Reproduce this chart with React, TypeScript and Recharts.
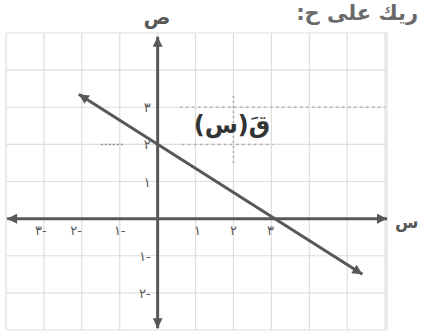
import { ComposedChart, Line, Scatter, XAxis, YAxis, CartesianGrid } from 'recharts';

// grid units
const xTicks = [-4, -3, -2, -1, 0, 1, 2, 3, 4, 5, 6];
const yTicks = [-3, -2, -1, 0, 1, 2, 3, 4, 5];

// axes drawn as series, with arrow heads at both ends
const xAxisLine = [
  { x: -3.97, y: 0 },
  { x: 6.05, y: 0 },
];
const yAxisLine = [
  { x: 0, y: 4.9 },
  { x: 0, y: -2.95 },
];

// the function line q(x)
const fLine = [
  { x: -2.08, y: 3.35 },
  { x: 5.4, y: -1.5 },
];

// faint dotted guides
const guideTop = [
  { x: 0.6, y: 3 },
  { x: 6, y: 3 },
];
const guideMid = [
  { x: 0.65, y: 2 },
  { x: 3.05, y: 2 },
];
const guideLeft = [
  { x: -1.5, y: 2 },
  { x: -0.9, y: 2 },
];
const guideVert = [
  { x: 2, y: 3.3 },
  { x: 2, y: 1.5 },
];

const xLabels = [
  { x: -3.08, y: 0, t: '٣-' },
  { x: -2.15, y: 0, t: '٢-' },
  { x: -1.0, y: 0, t: '١-' },
  { x: 1.05, y: 0, t: '١' },
  { x: 2.0, y: 0, t: '٢' },
  { x: 2.98, y: 0, t: '٣' },
];
const yLabels = [
  { x: 0, y: 3, t: '٣' },
  { x: 0, y: 2, t: '٢' },
  { x: 0, y: 1, t: '١' },
  { x: 0, y: -1, t: '١-' },
  { x: 0, y: -2, t: '٢-' },
];

const INK = '#585858';
const FONT = '"DejaVu Sans", sans-serif';

const XLabel = (p: any) => (
  <text x={p.cx} y={p.cy + 16} textAnchor="middle" fontSize={13} fill={INK} fontFamily={FONT}>
    {p.payload.t}
  </text>
);

const YLabel = (p: any) => (
  <text x={p.cx - 7} y={p.cy + 5} textAnchor="end" fontSize={13} fill={INK} fontFamily={FONT}>
    {p.payload.t}
  </text>
);

export default function App() {
  return (
    <div style={{ position: 'absolute', left: 0, top: 0, width: 422, height: 333, background: '#fff', overflow: 'hidden' }}>
      <svg width={0} height={0} style={{ position: 'absolute' }}>
        <defs>
          <marker
            id="arrow"
            viewBox="0 0 10 10"
            refX={10}
            refY={5}
            markerWidth={12}
            markerHeight={10}
            markerUnits="userSpaceOnUse"
            orient="auto-start-reverse"
          >
            <path d="M0,0 L10,5 L0,10 z" fill={INK} />
          </marker>
        </defs>
      </svg>
      <ComposedChart width={422} height={333} margin={{ top: 33, right: 35, bottom: 3, left: 6 }}>
        <XAxis hide type="number" dataKey="x" domain={[-4, 6.05]} ticks={xTicks} />
        <YAxis hide type="number" dataKey="y" domain={[-3, 5]} ticks={yTicks} />
        <CartesianGrid stroke="#dedede" strokeWidth={1.2} />
        <Line data={guideTop} dataKey="y" stroke="#a8a8a8" strokeWidth={1.5} strokeDasharray="2 4" dot={false} isAnimationActive={false} />
        <Line data={guideMid} dataKey="y" stroke="#a8a8a8" strokeWidth={1.5} strokeDasharray="2 4" dot={false} isAnimationActive={false} />
        <Line data={guideLeft} dataKey="y" stroke="#909090" strokeWidth={1.5} strokeDasharray="2 2" dot={false} isAnimationActive={false} />
        <Line data={guideVert} dataKey="y" stroke="#a8a8a8" strokeWidth={1.5} strokeDasharray="2 3" dot={false} isAnimationActive={false} />
        <Line
          data={xAxisLine}
          dataKey="y"
          stroke={INK}
          strokeWidth={3}
          dot={false}
          markerStart="url(#arrow)"
          markerEnd="url(#arrow)"
          isAnimationActive={false}
        />
        <Line
          data={yAxisLine}
          dataKey="y"
          stroke={INK}
          strokeWidth={3}
          dot={false}
          markerStart="url(#arrow)"
          markerEnd="url(#arrow)"
          isAnimationActive={false}
        />
        <Line
          data={fLine}
          dataKey="y"
          stroke={INK}
          strokeWidth={3}
          dot={false}
          markerStart="url(#arrow)"
          markerEnd="url(#arrow)"
          isAnimationActive={false}
        />
        <Scatter data={xLabels} shape={XLabel} isAnimationActive={false} />
        <Scatter data={yLabels} shape={YLabel} isAnimationActive={false} />
      </ComposedChart>
      <svg width={422} height={333} style={{ position: 'absolute', left: 0, top: 0, pointerEvents: 'none' }}>
        <text x={157} y={24} textAnchor="middle" fontSize={20} fontWeight="bold" fill={INK} fontFamily={FONT}>
          ص
        </text>
        <text x={395} y={228} textAnchor="start" fontSize={17} fontWeight="bold" fill={INK} fontFamily={FONT}>
          س
        </text>
        <text x={232} y={133} textAnchor="middle" direction="rtl" fontSize={24} fontWeight="bold" fill="#333" fontFamily={FONT}>
          قَ(س)
        </text>
        <text x={418} y={20} textAnchor="start" direction="rtl" fontSize={21} fontWeight="bold" fill="#6a6a6a" fontFamily={FONT}>
          ريك على ح:
        </text>
      </svg>
    </div>
  );
}
